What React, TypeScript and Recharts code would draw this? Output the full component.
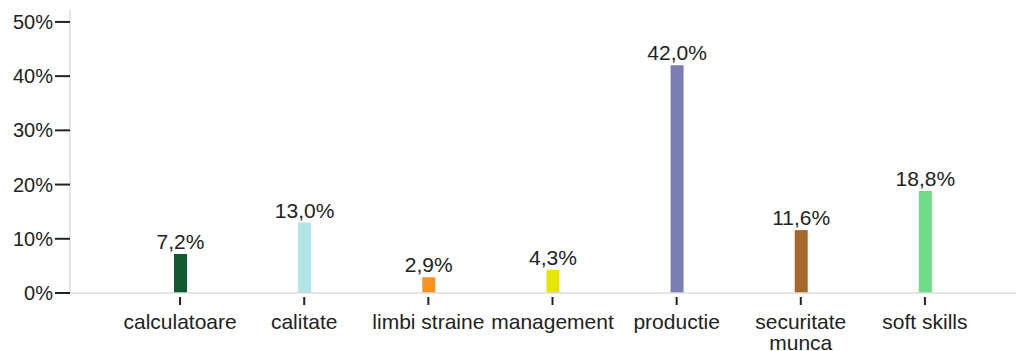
import React from 'react';
import { Bar, BarChart, Cell, LabelList, XAxis, YAxis } from 'recharts';

const categories = ['calculatoare', 'calitate', 'limbi straine', 'management', 'productie', 'securitate munca', 'soft skills'];
const percents = [7.2, 13.0, 2.9, 4.3, 42.0, 11.6, 18.8];
const colors = ['#0f5a30', '#b0e4e6', '#f7931e', '#e6e600', '#7a7eb2', '#a6682a', '#6edc86'];
const yTicks = [0, 10, 20, 30, 40, 50];

const data = categories.map((name, i) => ({ name, value: percents[i] }));

const FONT = 'Liberation Sans, Arial, sans-serif';
const BAND = 124;

// measure text so long category names wrap onto a second line
const ctx = typeof document !== 'undefined' ? document.createElement('canvas').getContext('2d') : null;
const textWidth = (s: string) => {
  if (!ctx) return s.length * 10;
  ctx.font = `21px ${FONT}`;
  return ctx.measureText(s).width;
};

const wrap = (label: string) => {
  const words = label.split(' ');
  const lines: string[] = [];
  let cur = '';
  words.forEach((w) => {
    const next = cur ? `${cur} ${w}` : w;
    if (cur && textWidth(next) > BAND) {
      lines.push(cur);
      cur = w;
    } else {
      cur = next;
    }
  });
  if (cur) lines.push(cur);
  return lines;
};

const CategoryTick = (props: any) => {
  const { x, y, payload } = props;
  const lines = wrap(String(payload.value));
  return (
    <g>
      <line x1={x} x2={x} y1={y + 4} y2={y + 12} stroke="#222" strokeWidth={2} />
      <text x={x} y={y + 36} textAnchor="middle" fill="#222" fontSize={21} fontFamily={FONT}>
        {lines.map((l, i) => (
          <tspan key={i} x={x} dy={i === 0 ? 0 : 21}>
            {l}
          </tspan>
        ))}
      </text>
    </g>
  );
};

const fmt = (v: any) => `${Number(v).toFixed(1).replace('.', ',')}%`;

export default function App() {
  return (
    <div style={{ position: 'absolute', left: 0, top: 0, background: '#fff' }}>
      <BarChart
        width={1022}
        height={351}
        data={data}
        margin={{ top: 10, right: 6, left: 0, bottom: 0 }}
        style={{ fontFamily: FONT }}
      >
        <XAxis
          dataKey="name"
          height={58}
          padding={{ left: 48, right: 29 }}
          axisLine={{ stroke: '#dcdcdc', strokeWidth: 1.5 }}
          tickLine={false}
          tickSize={0}
          tickMargin={0}
          interval={0}
          tick={<CategoryTick />}
        />
        <YAxis
          width={70}
          domain={[0, 52.2]}
          ticks={yTicks}
          allowDataOverflow
          axisLine={{ stroke: '#dcdcdc', strokeWidth: 1.5 }}
          tickLine={{ stroke: '#222', strokeWidth: 2 }}
          tickSize={15}
          tickMargin={2}
          tickFormatter={(v: number) => `${v}%`}
          tick={{ fill: '#222', fontSize: 20, fontFamily: FONT }}
        />
        <Bar dataKey="value" barSize={13} isAnimationActive={false}>
          {data.map((d, i) => (
            <Cell key={d.name} fill={colors[i]} />
          ))}
          <LabelList
            dataKey="value"
            position="top"
            offset={5}
            formatter={fmt}
            fill="#222"
            fontSize={21}
            fontFamily={FONT}
          />
        </Bar>
      </BarChart>
    </div>
  );
}
